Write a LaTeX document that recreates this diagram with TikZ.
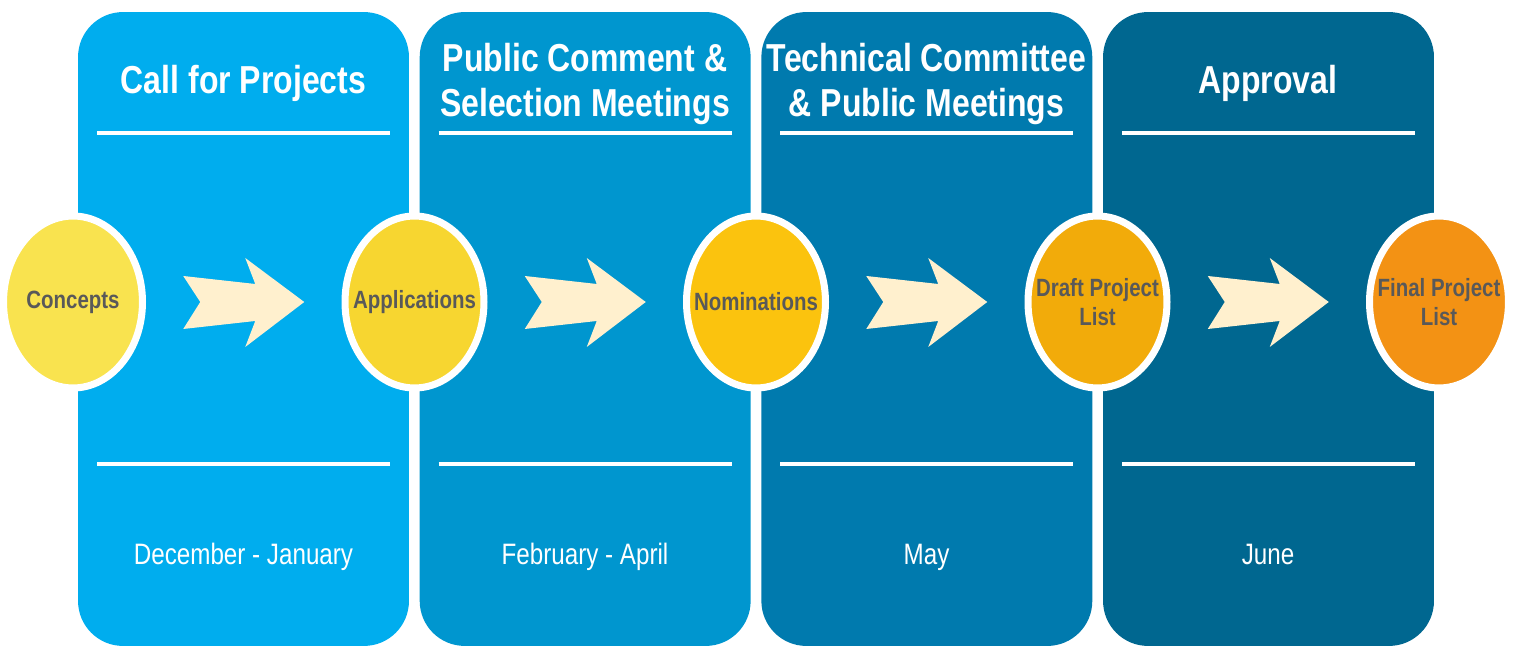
\documentclass[tikz,border=0pt]{standalone}
\usepackage{fontspec}
\setmainfont{Liberation Sans}[FakeStretch=0.82]
\usetikzlibrary{shapes,positioning}

\definecolor{panelA}{RGB}{0,173,238}
\definecolor{panelB}{RGB}{0,150,207}
\definecolor{panelC}{RGB}{0,122,174}
\definecolor{panelD}{RGB}{0,103,144}
\definecolor{stageA}{RGB}{249,227,79}
\definecolor{stageB}{RGB}{247,214,48}
\definecolor{stageC}{RGB}{251,195,14}
\definecolor{stageD}{RGB}{242,171,10}
\definecolor{stageE}{RGB}{243,146,20}
\definecolor{cream}{RGB}{255,240,206}
\definecolor{labelgray}{RGB}{89,89,89}

\begin{document}
\begin{tikzpicture}[x = .02cm, y = -.02cm,
  panel/.style = {rounded corners = .9cm, minimum width = 6.62cm, minimum height = 12.68cm, inner sep = 0pt},
  stage/.style = {ellipse, draw = white, line width = 4pt, minimum width = 2.78cm, minimum height = 3.44cm,
    inner sep = 0pt},
  stagetext/.style = {text = labelgray, align = center, inner sep = 0pt,
    font = \bfseries\fontsize{14.2}{16.5}\selectfont},
  title/.style = {text = white, align = center, font = \bfseries\fontsize{22.2}{26}\selectfont},
  month/.style = {text = white, anchor = base, font = \fontsize{16.8}{20}\selectfont},
  rule/.style = {white, line width = 1.8pt},
  chevron/.style = {fill = cream}]
\useasboundingbox (0,0) rectangle (1516,648);
%\draw (0,0) grid (1516,648);
\foreach \c [count = \i] in {panelA,panelB,panelC,panelD}{
  \node[panel, fill = \c] (p\i) at ({243.5+341.67*(\i-1)},329) {};
  \draw[rule] ({97+341.67*(\i-1)},133) -- ++(293,0);
  \draw[rule] ({97+341.67*(\i-1)},464) -- ++(293,0);
}
\node[title] (t1) at (243.5,83) {Call for Projects};
\node[title] (t2) at (585,84) {Public Comment \&\\Selection Meetings};
\node[title] (t3) at (926.5,84) {Technical Committee\\\& Public Meetings};
\node[title] (t4) at (1268,83) {Approval};
\node[month] (m1) at (243.5,565) {December - January};
\node[month] (m2) at (585,565) {February - April};
\node[month] (m3) at (926.5,565) {May};
\node[month] (m4) at (1268,565) {June};
\foreach \n/\x/\c in {1/73/stageA,2/414.5/stageB,3/756/stageC,4/1097.5/stageD,5/1439/stageE}
  \node[stage, fill = \c] (s\n) at (\x,302) {};
\node[stagetext] (c1) at (s1) {Concepts};
\node[stagetext] (c2) at (s2) {Applications};
\node[stagetext] (c3) at (s3) {Nominations};
\node[stagetext] (c4) at (s4) {Draft Project\\List};
\node[stagetext] (c5) at (s5) {Final Project\\List};
\foreach \a/\b [count = \i] in {s1/s2,s2/s3,s3/s4,s4/s5}{
  \path (\a) -- (\b) coordinate[midway] (a\i);
  \fill[chevron, shift = {(a\i)}] (-60.5,-26) -- (11.5,-18) -- (1.5,-44) -- (60.5,0) -- (1.5,45)
    -- (11.5,19) -- (-60.5,27) -- (-43.5,0) -- cycle;
}
\end{tikzpicture}
\end{document}
